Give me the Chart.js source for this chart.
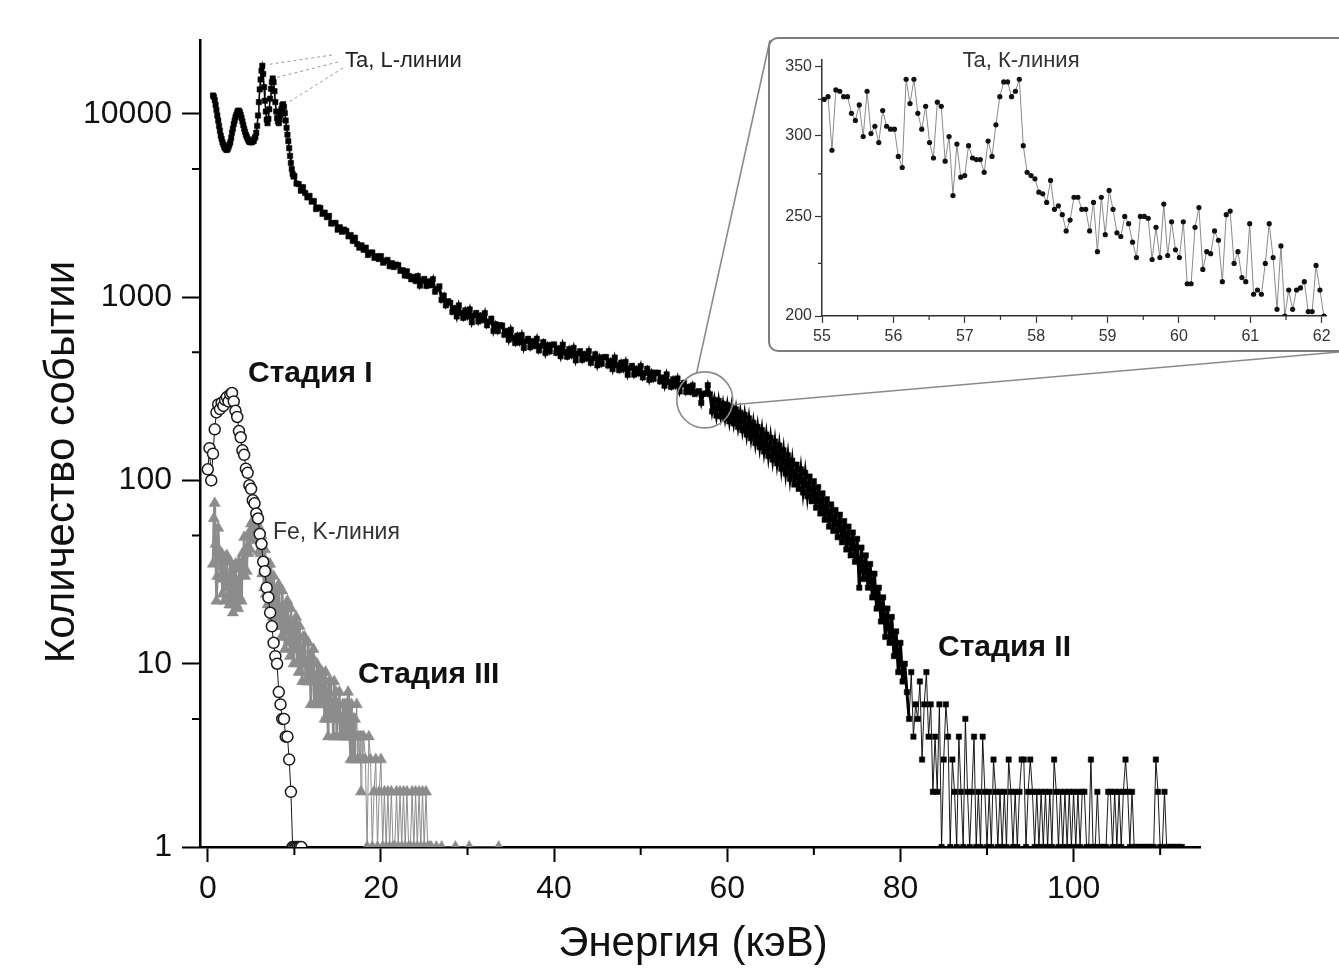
<!DOCTYPE html>
<html lang="ru">
<head>
<meta charset="utf-8">
<title>Спектр событий</title>
<script src="https://cdn.jsdelivr.net/npm/chart.js@4.4.1/dist/chart.umd.min.js"></script>
<style>
  html, body { margin: 0; padding: 0; background: #fff; overflow: hidden; }
  #wrap { position: relative; width: 1339px; height: 974px; overflow: hidden; }
  #main { position: absolute; left: 0; top: 0; }
  #insetBox {
    position: absolute; left: 768px; top: 37px; width: 600px; height: 315px;
    box-sizing: border-box; border: 2px solid #7d7d7d; border-radius: 10px;
    background: #fff; overflow: hidden;
  }
  #inset { position: absolute; left: 0; top: 0; }
</style>
</head>
<body>
<div id="wrap">
  <canvas id="main" width="1339" height="974"></canvas>
  <div id="insetBox"><canvas id="inset" width="569" height="311"></canvas></div>
</div>
<script>
/* Спектр событий по стадиям — основной график + вставка с K-линией Ta */

Chart.defaults.font.family = "'Liberation Sans', Arial, sans-serif";
Chart.defaults.color = '#111';

// ── Data (counts per energy channel) ────────────────────────────────────────

// Stage II, low energy part with the Ta L-lines
const LOW_START = 0.6, LOW_STEP = 0.1;
const lowCounts = [
  12600, 12400, 11900, 11200, 10500, 9800, 9200, 8600, 8100, 7600,
  7300, 7000, 6800, 6600, 6500, 6400, 6350, 6450, 6600, 6800,
  7000, 7400, 7900, 8300, 8800, 9200, 9600, 9900, 10200, 10400,
  10400, 10200, 9900, 9500, 9100, 8700, 8300, 8000, 7700, 7500,
  7300, 7150, 7050, 7000, 7050, 7000, 7200, 7100, 7350, 7500,
  7900, 8600, 9800, 11600, 13600, 15400, 17200, 18300, 16500, 14000,
  11800, 10300, 9300, 8900, 9400, 10600, 12100, 13700, 14900, 15600,
  14900, 13300, 11600, 10300, 9500, 9100, 8900, 9300, 9900, 10600,
  11100, 11300, 10900, 10100, 9200, 8400, 7700, 7100, 6500, 5900,
  5400, 5000, 4700, 4550
];

// Stage II, continuum 10 … 82 keV
const MID_START = 10.0, MID_STEP = 0.25;
const midCounts = [
  4584, 4165, 4141, 3812, 3983, 3701, 3502, 3570,
  3319, 3348, 3024, 3085, 3065, 2847, 2893, 2732,
  2777, 2522, 2530, 2544, 2335, 2406, 2274, 2337,
  2297, 2146, 2182, 2027, 2111, 1950, 1862, 1918,
  1812, 1863, 1699, 1749, 1753, 1638, 1675, 1614,
  1674, 1542, 1570, 1597, 1476, 1533, 1460, 1507,
  1494, 1392, 1404, 1312, 1383, 1303, 1251, 1290,
  1225, 1302, 1156, 1232, 1258, 1152, 1219, 1162,
  1253, 1072, 1110, 1145, 967, 1020, 902, 950,
  933, 831, 871, 785, 902, 819, 771, 847,
  784, 857, 730, 795, 820, 737, 794, 750,
  818, 702, 735, 763, 654, 711, 653, 704,
  700, 624, 653, 586, 664, 599, 562, 616,
  567, 621, 529, 576, 593, 533, 574, 542,
  593, 512, 541, 569, 496, 546, 506, 550,
  552, 497, 525, 476, 550, 501, 473, 520,
  482, 529, 452, 492, 507, 455, 489, 463,
  507, 438, 463, 488, 425, 468, 433, 470,
  472, 424, 448, 405, 468, 426, 400, 439,
  405, 443, 377, 410, 422, 378, 407, 384,
  421, 365, 386, 407, 354, 388, 358, 387,
  387, 347, 364, 329, 379, 345, 324, 356,
  329, 360, 306, 333, 341, 304, 324, 304,
  330, 296, 305, 307, 265, 297, 298, 331,
  295, 238, 275, 226, 272, 224, 262, 218,
  258, 210, 252, 205, 244, 196, 234, 188,
  228, 178, 218, 170, 206, 160, 196, 152,
  188, 144, 178, 136, 171, 130, 163, 124,
  155, 116, 146, 109, 137, 102, 128, 95,
  122, 90, 115, 86, 110, 82, 105, 77,
  99, 71, 92, 66, 85, 61, 79, 56,
  74, 53, 69, 49, 65, 46, 60, 42,
  56, 39, 52, 36, 48, 26, 43, 29,
  39, 26, 35, 23, 31, 20, 26, 17,
  23, 14, 20, 13, 18, 11, 15, 9,
  13, 8, 10, 7, 5, 9, 4, 6
];

// Stage II, sparse tail 82 … 112.5 keV
const TAIL_START = 82.0, TAIL_STEP = 0.25;
const tailCounts = [
  5, 8, 3, 6, 9, 4, 6, 2,
  4, 2, 6, 1, 3, 6, 4, 1,
  3, 2, 1, 4, 2, 1, 5, 2,
  1, 2, 4, 1, 2, 1, 4, 2,
  1, 2, 1, 3, 2, 1, 2, 1,
  2, 1, 3, 2, 1, 2, 1, 2,
  3, 3, 1, 2, 3, 2, 1, 2,
  1, 2, 1, 2, 1, 2, 1, 3,
  2, 1, 2, 1, 2, 1, 2, 1,
  2, 1, 2, 1, 2, 2, 1, 1,
  3, 1, 1, 2, 1, 1, 1, 1,
  2, 2, 1, 2, 1, 2, 1, 2,
  3, 2, 1, 2, 1, 1, 1, 1,
  1, 1, 1, 1, 1, 1, 3, 2,
  1, 1, 2, 1, 1, 1, 1, 1,
  1, 1, 1
];

// Stage I (open circles)
const ST1_START = 0.0, ST1_STEP = 0.2;
const stage1Counts = [
  115, 150, 100, 140, 190, 235, 260, 245, 265, 255,
  275, 285, 270, 295, 300, 270, 240, 222, 186, 172,
  146, 138, 116, 110, 94, 90, 78, 75, 66, 62,
  51, 45, 36, 32, 26, 23, 19, 16, 13, 11,
  10, 7, 6, 5, 5, 4, 4, 3, 2, 1,
  1, 1, 1, 1, 1
];

// Stage III (grey triangles), dense part 0.6 … 17.9 keV
const ST3A_START = 0.6, ST3A_STEP = 0.1;
const stage3NearCounts = [
  35, 62, 75, 45, 22, 30, 55, 41, 38, 29,
  40, 24, 34, 22, 38, 26, 39, 23, 29, 21,
  36, 21, 30, 19, 33, 23, 35, 21, 28, 20,
  36, 23, 34, 22, 40, 31, 49, 30, 42, 32,
  50, 40, 52, 42, 58, 48, 60, 47, 57, 49,
  60, 48, 57, 41, 52, 40, 50, 31, 38, 26,
  42, 24, 34, 21, 35, 24, 35, 20, 25, 18,
  30, 18, 25, 16, 26, 19, 27, 16, 20, 14,
  25, 14, 20, 12, 21, 15, 22, 13, 17, 11,
  20, 12, 16, 10, 17, 12, 18, 10, 13, 9,
  16, 9, 12, 8, 14, 10, 14, 8, 10, 8,
  13, 8, 10, 6, 11, 8, 12, 6, 8, 6,
  10, 6, 9, 6, 9, 6, 9, 6, 7, 5,
  9, 5, 7, 4, 8, 5, 8, 5, 6, 4,
  8, 5, 7, 4, 6, 5, 7, 4, 5, 4,
  6, 4, 6, 4, 6, 4, 7, 4, 4, 3,
  6, 3, 5, 3, 5, 4, 6, 3, 4, 3,
  4, 2, 4, 3
];

// Stage III, sparse part 18 … 34 keV; null = empty channel
const ST3B_START = 18.0, ST3B_STEP = 0.2;
const stage3FarCounts = [
  4, 3, 1, 4, 3, 1, 2, 3, 1, 2,
  3, 1, 2, 1, 2, 1, 2, 1, 1, 2,
  1, 2, 1, 2, 1, 2, 1, 1, 2, 1,
  2, 1, 2, 1, 2, 1, 2, 1, 1, 1,
  null, null, 1, null, null, 1, null, null, null, null,
  null, null, null, 1, null, null, null, null, null, null,
  null, 1, null, null, null, null, null, null, null, null,
  null, null, null, null, null, null, null, null, 1, null,
  null
];

// Inset: Ta K-line, 55 … 62 keV
const INSET_START = 55.03, INSET_STEP = 0.0546875;
const insetCounts = [
  325, 327, 290, 332, 331, 327, 327, 315, 310, 321,
  299, 331, 301, 306, 295, 317, 306, 304, 304, 286,
  279, 340, 322, 340, 315, 304, 320, 295, 285, 323,
  320, 283, 299, 262, 294, 273, 274, 293, 285, 284,
  284, 276, 296, 286, 307, 327, 338, 338, 327, 331,
  340, 293, 276, 274, 272, 264, 263, 258, 271, 254,
  256, 251, 242, 248, 261, 261, 254, 254, 242, 258,
  231, 261, 240, 265, 254, 241, 239, 250, 246, 236,
  228, 250, 250, 249, 227, 244, 228, 257, 229, 247,
  232, 228, 247, 215, 215, 244, 255, 222, 231, 230,
  242, 237, 216, 251, 253, 225, 231, 218, 216, 246,
  210, 212, 210, 225, 246, 228, 203, 234, 200, 212,
  203, 212, 213, 216, 202, 202, 224, 212, 200
];

const xMajor = [0, 20, 40, 60, 80, 100];
const xMinor = [10, 30, 50, 70, 90, 110];
const yMajor = [1, 10, 100, 1000, 10000];
const yMinor = [5, 50, 500, 5000];

const insetXMajor = [55, 56, 57, 58, 59, 60, 61, 62];
const insetXMinor = [55.5, 56.5, 57.5, 58.5, 59.5, 60.5, 61.5];
const insetYMajor = [200, 250, 300, 350];
const insetYMinor = [225, 275, 325];

// annotation anchors, in data units
const taPeaks = [[6.3, 18300], [7.5, 15600], [8.7, 11300]];
const zoomSpot = [57.4, 275];

function el(id) { return document.getElementById(id); }

function series(start, step, counts) {
  return counts.map((n, i) => ({ x: +(start + i * step).toFixed(4), y: n }));
}

const FONT = "'Liberation Sans', Arial, sans-serif";

// ── Main chart decorations ──────────────────────────────────────────────────

function text(ctx, s, x, y, font, color) {
  ctx.font = font;
  ctx.fillStyle = color;
  ctx.textAlign = 'left';
  ctx.textBaseline = 'middle';
  ctx.fillText(s, x, y);
}

const mainDecor = {
  id: 'mainDecor',
  afterDraw(chart) {
    const { ctx, chartArea: a, scales: { x, y } } = chart;
    ctx.save();

    // minor ticks (shorter)
    ctx.strokeStyle = '#000';
    ctx.lineWidth = 2;
    ctx.beginPath();
    xMinor.forEach(v => {
      const px = x.getPixelForValue(v);
      ctx.moveTo(px, a.bottom); ctx.lineTo(px, a.bottom + 8);
    });
    yMinor.forEach(v => {
      const py = y.getPixelForValue(v);
      ctx.moveTo(a.left - 8, py); ctx.lineTo(a.left, py);
    });
    ctx.stroke();

    // Ta L-lines leaders
    ctx.strokeStyle = '#9a9a9a';
    ctx.lineWidth = 1;
    ctx.setLineDash([3, 3]);
    const starts = [[332, 55], [338, 62], [343, 68]];
    taPeaks.forEach(([e, n], i) => {
      ctx.beginPath();
      ctx.moveTo(starts[i][0], starts[i][1]);
      ctx.lineTo(x.getPixelForValue(e) + 4, y.getPixelForValue(n) - 1);
      ctx.stroke();
    });
    ctx.setLineDash([]);

    // zoom circle + lines to the inset box
    const cx = x.getPixelForValue(zoomSpot[0]), cy = y.getPixelForValue(zoomSpot[1]);
    const r = 28;
    ctx.strokeStyle = '#8a8a8a';
    ctx.lineWidth = 1.6;
    ctx.beginPath();
    ctx.arc(cx, cy, r, 0, Math.PI * 2);
    ctx.stroke();
    const a1 = -107 * Math.PI / 180, a2 = 10 * Math.PI / 180;
    ctx.beginPath();
    ctx.moveTo(cx + r * Math.cos(a1), cy + r * Math.sin(a1));
    ctx.lineTo(770, 40);
    ctx.moveTo(cx + r * Math.cos(a2), cy + r * Math.sin(a2));
    ctx.lineTo(1339, 352);
    ctx.stroke();

    // labels
    text(ctx, 'Ta, L-линии', 345, 61, `22px ${FONT}`, '#222');
    text(ctx, 'Стадия I', 248, 374, `bold 30px ${FONT}`, '#111');
    text(ctx, 'Fe, K-линия', 273, 533, `23px ${FONT}`, '#333');
    text(ctx, 'Стадия III', 358, 675, `bold 30px ${FONT}`, '#111');
    text(ctx, 'Стадия II', 938, 648, `bold 30px ${FONT}`, '#111');

    // axis titles
    ctx.font = `42px ${FONT}`;
    ctx.fillStyle = '#111';
    ctx.textAlign = 'center';
    ctx.textBaseline = 'middle';
    ctx.fillText('Энергия (кэВ)', 693, 944);
    ctx.translate(62, 462);
    ctx.rotate(-Math.PI / 2);
    ctx.fillText('Количество событии', 0, 0);
    ctx.restore();
  }
};

// ── Main chart ──────────────────────────────────────────────────────────────

const mainData = [
  ...series(LOW_START, LOW_STEP, lowCounts),
  ...series(MID_START, MID_STEP, midCounts),
  ...series(TAIL_START, TAIL_STEP, tailCounts),
];

const stage3Data = [
  ...series(ST3A_START, ST3A_STEP, stage3NearCounts),
  ...series(ST3B_START, ST3B_STEP, stage3FarCounts),
];

// dense channels blur into a band; the sparse tail stays hairline
const mainWidth = c => {
  const e = mainData[c.p0DataIndex].x;
  return e < 10 ? 1.6 : e < 81 ? 3 : 0.9;
};
const stage3Width = c => (stage3Data[c.p0DataIndex].x < 17 ? 2.6 : 1);

new Chart(el('main'), {
  type: 'line',
  data: {
    datasets: [
      {
        label: 'Стадия I',
        data: series(ST1_START, ST1_STEP, stage1Counts),
        borderColor: '#1a1a1a', borderWidth: 1,
        pointStyle: 'circle', pointRadius: 5.5, pointBorderWidth: 1.5,
        pointBorderColor: '#1a1a1a', pointBackgroundColor: '#fff',
      },
      {
        label: 'Стадия III',
        data: stage3Data,
        borderColor: '#8c8c8c', borderWidth: 1, spanGaps: true,
        segment: { borderWidth: stage3Width },
        pointStyle: 'triangle', pointRadius: 6.5, pointBorderWidth: 0.5,
        pointBorderColor: '#8c8c8c', pointBackgroundColor: '#8c8c8c',
      },
      {
        label: 'Стадия II',
        data: mainData,
        borderColor: '#000', borderWidth: 0.9,
        segment: { borderWidth: mainWidth },
        pointStyle: 'rect', pointRadius: 3.8, pointBorderWidth: 0.5,
        pointBorderColor: '#000', pointBackgroundColor: '#000',
      },
    ]
  },
  options: {
    responsive: false,
    animation: false,
    layout: { padding: { top: 40, right: 139, left: 0, bottom: 0 } },
    plugins: { legend: { display: false }, tooltip: { enabled: false } },
    elements: { line: { tension: 0 } },
    scales: {
      x: {
        type: 'linear', min: -0.9, max: 114.6, bounds: 'data',
        afterBuildTicks: s => { s.ticks = xMajor.map(v => ({ value: v })); },
        afterFit: s => { s.height = 127; },
        ticks: { autoSkip: false, maxRotation: 0, padding: 8, font: { size: 32 }, color: '#111', callback: v => String(v) },
        grid: { drawOnChartArea: false, tickLength: 15, tickWidth: 2, tickColor: '#000' },
        border: { color: '#000', width: 2.5 },
      },
      y: {
        type: 'logarithmic', min: 1, max: 25300, bounds: 'data',
        afterBuildTicks: s => { s.ticks = yMajor.map(v => ({ value: v })); },
        afterFit: s => { s.width = 200; },
        ticks: { autoSkip: false, padding: 10, font: { size: 32 }, color: '#111', callback: v => String(v) },
        grid: { drawOnChartArea: false, tickLength: 18, tickWidth: 2, tickColor: '#000' },
        border: { color: '#000', width: 2.5 },
      }
    }
  },
  plugins: [mainDecor]
});

// ── Inset ───────────────────────────────────────────────────────────────────

const insetDecor = {
  id: 'insetDecor',
  afterDraw(chart) {
    const { ctx, chartArea: a, scales: { x, y } } = chart;
    ctx.save();
    ctx.strokeStyle = '#333';
    ctx.lineWidth = 1.2;
    ctx.beginPath();
    insetXMinor.forEach(v => {
      const px = x.getPixelForValue(v);
      ctx.moveTo(px, a.bottom); ctx.lineTo(px, a.bottom + 4);
    });
    insetYMinor.forEach(v => {
      const py = y.getPixelForValue(v);
      ctx.moveTo(a.left - 4, py); ctx.lineTo(a.left, py);
    });
    ctx.stroke();
    ctx.font = `22px ${FONT}`;
    ctx.fillStyle = '#333';
    ctx.textAlign = 'center';
    ctx.textBaseline = 'middle';
    ctx.fillText('Ta, К-линия', 251, 22);
    ctx.restore();
  }
};

new Chart(el('inset'), {
  type: 'line',
  data: {
    datasets: [{
      label: 'Ta, К-линия',
      data: series(INSET_START, INSET_STEP, insetCounts),
      borderColor: '#8a8a8a', borderWidth: 1,
      pointStyle: 'circle', pointRadius: 2.6, pointBorderWidth: 0,
      pointBackgroundColor: '#111',
    }]
  },
  options: {
    responsive: false,
    animation: false,
    layout: { padding: { top: 21, right: 13, left: 0, bottom: 0 } },
    plugins: { legend: { display: false }, tooltip: { enabled: false } },
    elements: { line: { tension: 0 } },
    scales: {
      x: {
        type: 'linear', min: 55, max: 62.06, bounds: 'data',
        afterBuildTicks: s => { s.ticks = insetXMajor.map(v => ({ value: v })); },
        afterFit: s => { s.height = 34; },
        ticks: { autoSkip: false, maxRotation: 0, padding: 4, font: { size: 16 }, color: '#333', callback: v => String(v) },
        grid: { drawOnChartArea: false, tickLength: 7, tickWidth: 1.2, tickColor: '#333' },
        border: { color: '#333', width: 1.5 },
      },
      y: {
        type: 'logarithmic', min: 200, max: 355, bounds: 'data',
        afterBuildTicks: s => { s.ticks = insetYMajor.map(v => ({ value: v })); },
        afterFit: s => { s.width = 52; },
        ticks: { autoSkip: false, padding: 3, font: { size: 16 }, color: '#333', callback: v => String(v) },
        grid: { drawOnChartArea: false, tickLength: 7, tickWidth: 1.2, tickColor: '#333' },
        border: { color: '#333', width: 1.5 },
      }
    }
  },
  plugins: [insetDecor]
});
</script>
</body>
</html>
